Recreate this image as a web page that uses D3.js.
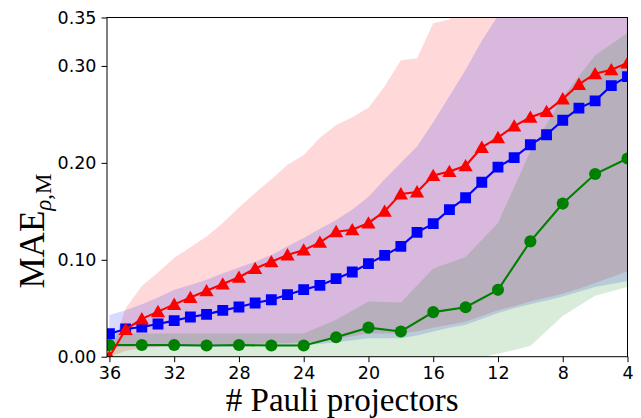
<!DOCTYPE html>
<html>
<head>
<meta charset="utf-8">
<script src="https://cdn.jsdelivr.net/npm/d3@7"></script>
<style>
  html, body { margin: 0; padding: 0; background: #fff; }
  svg { display: block; }
</style>
</head>
<body>
<div id="chart"></div>
<script>
// MAE vs number of Pauli projectors, three methods with spread bands
const d3 = window.d3;

const X_ALL = [36, 35, 34, 33, 32, 31, 30, 29, 28, 27, 26, 25, 24, 23, 22, 21, 20, 19, 18, 17, 16, 15, 14, 13, 12, 11, 10, 9, 8, 7, 6, 5, 4];
const X_EVEN = [36, 34, 32, 30, 28, 26, 24, 22, 20, 18, 16, 14, 12, 10, 8, 6, 4];

const RED_MEAN = [0.000, 0.028, 0.039, 0.0465, 0.054, 0.061, 0.068, 0.075, 0.082, 0.091, 0.098, 0.105, 0.110, 0.118, 0.129, 0.131, 0.138, 0.150, 0.168, 0.170, 0.187, 0.191, 0.197, 0.216, 0.226, 0.238, 0.247, 0.253, 0.266, 0.281, 0.292, 0.296, 0.303];
const RED_UPPER = [0.000, 0.050, 0.073, 0.087, 0.102, 0.113, 0.124, 0.138, 0.154, 0.169, 0.183, 0.198, 0.208, 0.226, 0.239, 0.247, 0.257, 0.279, 0.306, 0.308, 0.344, 0.348, 0.370, 0.390, 0.410, 0.430, 0.450, 0.470, 0.480, 0.500, 0.510, 0.520, 0.530];
const RED_LOWER = [0.000, 0.006, 0.009, 0.010, 0.011, 0.012, 0.012, 0.013, 0.013, 0.013, 0.014, 0.014, 0.015, 0.016, 0.018, 0.021, 0.024, 0.024, 0.024, 0.026, 0.030, 0.033, 0.036, 0.042, 0.048, 0.052, 0.057, 0.061, 0.065, 0.070, 0.076, 0.082, 0.088];

const BLUE_MEAN = [0.0237, 0.0286, 0.0306, 0.0337, 0.0372, 0.041, 0.0437, 0.0478, 0.0513, 0.0554, 0.0588, 0.064, 0.0692, 0.0736, 0.0805, 0.0874, 0.096, 0.1046, 0.1139, 0.1283, 0.1373, 0.1518, 0.164, 0.180, 0.1956, 0.2054, 0.2187, 0.229, 0.244, 0.2565, 0.264, 0.2797, 0.289];
const BLUE_UPPER = [0.043, 0.048, 0.054, 0.061, 0.069, 0.074, 0.0795, 0.086, 0.092, 0.098, 0.105, 0.114, 0.1225, 0.132, 0.141, 0.152, 0.165, 0.183, 0.200, 0.217, 0.242, 0.269, 0.296, 0.326, 0.352, 0.375, 0.395, 0.410, 0.430, 0.440, 0.450, 0.460, 0.470];
const BLUE_LOWER = [0.010, 0.010, 0.010, 0.010, 0.010, 0.010, 0.010, 0.010, 0.010, 0.011, 0.011, 0.011, 0.012, 0.013, 0.015, 0.017, 0.019, 0.019, 0.019, 0.022, 0.026, 0.030, 0.033, 0.039, 0.045, 0.050, 0.054, 0.058, 0.062, 0.067, 0.072, 0.075, 0.078];

const GREEN_MEAN = [0.012, 0.012, 0.012, 0.0115, 0.012, 0.0115, 0.0115, 0.020, 0.030, 0.026, 0.046, 0.051, 0.069, 0.119, 0.158, 0.1885, 0.2045];
const GREEN_UPPER = [0.024, 0.024, 0.024, 0.024, 0.024, 0.024, 0.024, 0.038, 0.057, 0.056, 0.091, 0.103, 0.138, 0.212, 0.268, 0.311, 0.334];
const GREEN_LOWER = [-0.010, -0.010, -0.010, -0.010, -0.010, -0.010, -0.010, -0.010, -0.010, -0.010, -0.010, -0.004, 0.003, 0.011, 0.042, 0.063, 0.072];

const X_TICKS = [36, 32, 28, 24, 20, 16, 12, 8, 4];
const Y_TICKS = [0, 0.1, 0.2, 0.3, 0.35];

const W = 641;
const H = 418;
const PLOT = { left: 107, right: 627.5, top: 17.5, bottom: 356.7 };
const TICK_FONT = "'DejaVu Sans', sans-serif";
const LABEL_FONT = "'Liberation Serif', 'DejaVu Serif', serif";

const svg = d3.select("#chart").append("svg").attr("width", W).attr("height", H);

const x = d3.scaleLinear().domain([36.15, 4]).range([PLOT.left, PLOT.right]);
const y = d3.scaleLinear().domain([0, 0.35]).range([PLOT.bottom, PLOT.top]);

svg
  .append("clipPath")
  .attr("id", "plotClip")
  .append("rect")
  .attr("x", PLOT.left)
  .attr("y", PLOT.top)
  .attr("width", PLOT.right - PLOT.left)
  .attr("height", PLOT.bottom - PLOT.top);

const gPlot = svg.append("g").attr("clip-path", "url(#plotClip)");

const series = [
  { xs: X_ALL, mean: RED_MEAN, lo: RED_LOWER, hi: RED_UPPER, color: "#ff0000", marker: "triangle" },
  { xs: X_ALL, mean: BLUE_MEAN, lo: BLUE_LOWER, hi: BLUE_UPPER, color: "#0000ff", marker: "square" },
  { xs: X_EVEN, mean: GREEN_MEAN, lo: GREEN_LOWER, hi: GREEN_UPPER, color: "#008000", marker: "circle" },
];

// bandas primeiro, todas por baixo das linhas
for (const s of series) {
  const pts = s.xs.map((v, i) => ({ x: v, lo: s.lo[i], hi: s.hi[i] }));
  const area = d3
    .area()
    .x((d) => x(d.x))
    .y0((d) => y(d.lo))
    .y1((d) => y(d.hi));
  gPlot
    .append("path")
    .attr("d", area(pts))
    .attr("fill", s.color)
    .attr("fill-opacity", 0.15)
    .attr("stroke", "none");
}

const symbols = {
  triangle: d3.symbol().type(d3.symbolTriangle).size(88),
  square: d3.symbol().type(d3.symbolSquare).size(118),
  circle: d3.symbol().type(d3.symbolCircle).size(115),
};

// verde embaixo, vermelho por cima
for (const s of [series[2], series[1], series[0]]) {
  const pts = s.xs.map((v, i) => ({ x: v, y: s.mean[i] }));
  const line = d3
    .line()
    .x((d) => x(d.x))
    .y((d) => y(d.y));
  gPlot
    .append("path")
    .attr("d", line(pts))
    .attr("fill", "none")
    .attr("stroke", s.color)
    .attr("stroke-width", 2.1);
  gPlot
    .append("g")
    .selectAll("path")
    .data(pts)
    .join("path")
    .attr("d", symbols[s.marker])
    .attr("transform", (d) => {
      const dy = s.marker === "triangle" ? 1.4 : 0;
      return `translate(${x(d.x)},${y(d.y) + dy})`;
    })
    .attr("fill", s.color);
}

// eixos no estilo matplotlib
const xAxis = svg
  .append("g")
  .attr("transform", `translate(0,${PLOT.bottom})`)
  .call(d3.axisBottom(x).tickValues(X_TICKS).tickSize(5.5).tickPadding(4).tickFormat(d3.format("d")));
const yAxis = svg
  .append("g")
  .attr("transform", `translate(${PLOT.left},0)`)
  .call(d3.axisLeft(y).tickValues(Y_TICKS).tickSize(5.5).tickPadding(5).tickFormat(d3.format(".2f")));

for (const g of [xAxis, yAxis]) {
  g.select(".domain").remove();
  g.selectAll("line").attr("stroke", "#000").attr("stroke-width", 1);
  g.selectAll("text").attr("fill", "#000").attr("font-family", TICK_FONT).attr("font-size", 17.5);
}

svg
  .append("rect")
  .attr("x", PLOT.left)
  .attr("y", PLOT.top)
  .attr("width", PLOT.right - PLOT.left)
  .attr("height", PLOT.bottom - PLOT.top)
  .attr("fill", "none")
  .attr("stroke", "#000")
  .attr("stroke-width", 1);

svg
  .append("text")
  .attr("x", (PLOT.left + PLOT.right) / 2 - 25)
  .attr("y", 411)
  .attr("text-anchor", "middle")
  .attr("font-family", LABEL_FONT)
  .attr("font-size", 33)
  .attr("fill", "#000")
  .text("# Pauli projectors");

const yLabel = svg
  .append("text")
  .attr("transform", "translate(44,231) rotate(-90)")
  .attr("text-anchor", "middle")
  .attr("font-family", LABEL_FONT)
  .attr("font-size", 35)
  .attr("fill", "#000");
yLabel.append("tspan").text("MAE");
yLabel.append("tspan").attr("font-size", 23).attr("font-style", "italic").attr("dy", 7).text("ρ");
yLabel.append("tspan").attr("font-size", 23).text(",M");
</script>
</body>
</html>
